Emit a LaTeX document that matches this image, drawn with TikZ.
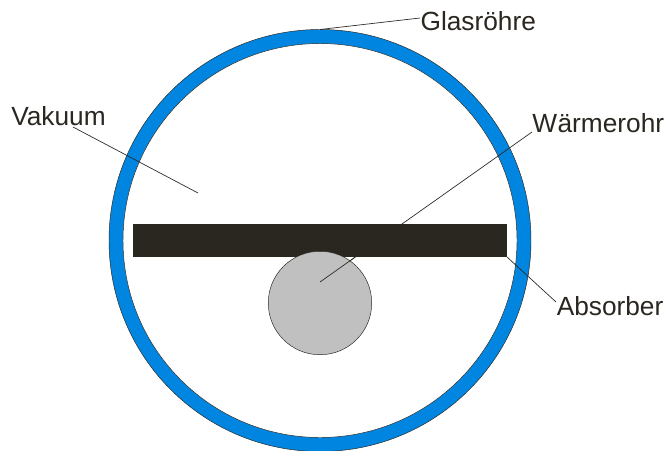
\documentclass[tikz,border=0pt]{standalone}
\usepackage{fontspec}
\setmainfont{Liberation Sans}
\definecolor{ringblue}{HTML}{0085E0}
\definecolor{ink}{HTML}{2A2620}
\definecolor{discgray}{HTML}{C0C0C0}
\tikzset{
  px/.style={x=0.75pt,y=-0.75pt},
  ringdisc/.style={circle,draw=ink,line width=0.35pt,inner sep=0pt},
  leader/.style={draw=ink,line width=0.5pt},
  label/.style={inner sep=0pt,text=ink,font=\fontsize{19.7pt}{22pt}\selectfont,anchor=base west}
}
\begin{document}
\begin{tikzpicture}[px]
\useasboundingbox (0,0) rectangle (666,450);
\clip (0,0) rectangle (666,450);
\fill[white] (0,0) rectangle (666,450);
% glass tube
\node[ringdisc,fill=ringblue,minimum size=316.5pt] (outer) at (320,240.5) {};
\node[ringdisc,fill=white,minimum size=295.5pt] (inner) at (320,240.5) {};
% labels
\node[label] (glas) at (420.3,30) {Glasröhre};
\node[label] (vakuum) at (11,125) {Vakuum};
\node[label] (waerme) at (532,132) {W\kern0.4pt ärmerohr};
\node[label] (absorber) at (556.5,315) {Absorber};
% leader end points
\coordinate (glasA) at (420,18);
\coordinate (glasB) at (320,29.5);
\coordinate (vakA) at (73,127);
\coordinate (vakB) at (198,193);
\coordinate (waeA) at (532,132);
\coordinate (waeB) at (320,282);
\coordinate (waeC) at (355.3,257);
\coordinate (absA) at (556,302);
\coordinate (absB) at (507,257);
\draw[leader] (glasA) -- (glasB);
\draw[leader] (vakA) -- (vakB);
\draw[leader] (waeA) -- (waeB);
% heat pipe and absorber
\node[rectangle,fill=ink,inner sep=0pt,minimum width=280.875pt,minimum height=24.75pt] (rohr) at (319.75,240.5) {};
\node[ringdisc,fill=discgray,minimum size=77.6pt] (disc) at (320,303) {};
\draw[leader] (waeB) -- (waeC);
\draw[leader] (absA) -- (absB);
\end{tikzpicture}
\end{document}
